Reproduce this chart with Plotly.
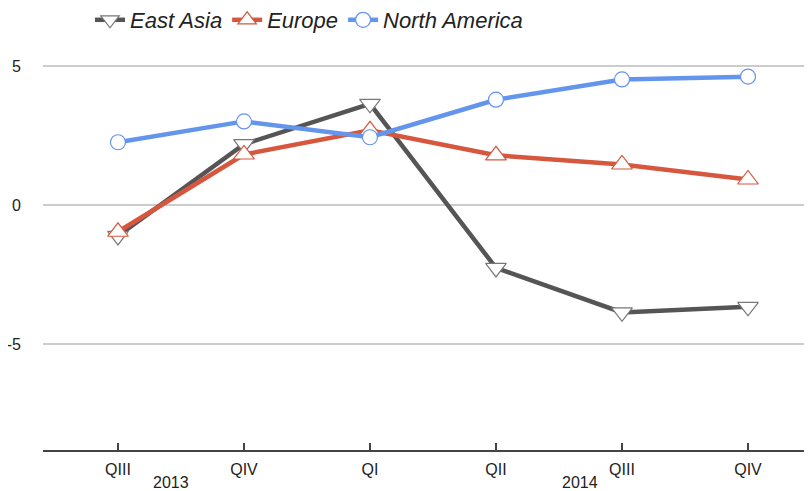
import plotly.graph_objects as go

quarters = ["QIII", "QIV", "QI", "QII", "QIII", "QIV"]
years = ["2013", "2014"]
year_pos = [0.42, 3.67]
east_asia = [-1.1, 2.2, 3.65, -2.25, -3.85, -3.65]
europe = [-0.95, 1.83, 2.7, 1.8, 1.47, 0.93]
north_america = [2.27, 3.02, 2.45, 3.8, 4.53, 4.63]
x = list(range(len(quarters)))

# the page body has an 8px default margin; compensate so the plot lands where the reference is
OFF = 8

fig = go.Figure()
series = [
    ("East Asia", east_asia, "#555555", "#777777", "triangle-down", 18),
    ("Europe", europe, "#d6573e", "#d6573e", "triangle-up", 18),
    ("North America", north_america, "#6495ed", "#6495ed", "circle", 15),
]
for name, vals, lc, mc, sym, sz in series:
    fig.add_trace(go.Scatter(
        x=x, y=vals, name=name, mode="lines+markers",
        line=dict(color=lc, width=4.5),
        marker=dict(symbol=sym, size=sz,
                    color="white", line=dict(color=mc, width=1.2)),
    ))

for yr, xp in zip(years, year_pos):
    fig.add_annotation(x=xp, y=0, xref="x", yref="paper", yshift=-32,
                       text=yr, showarrow=False,
                       font=dict(size=16, color="#222"), yanchor="middle")

fig.update_layout(
    width=812, height=491,
    margin=dict(l=43 - OFF, r=OFF, t=38 - OFF, b=41 + OFF, autoexpand=False),
    plot_bgcolor="white", paper_bgcolor="white",
    font=dict(family="Liberation Sans, Arial", color="#222"),
    showlegend=True,
    legend=dict(orientation="h", x=(90 - OFF) / 812, xref="container", xanchor="left",
                y=1 - (20 - OFF) / 491, yref="container", yanchor="middle",
                font=dict(size=22, style="italic"), itemwidth=30,
                tracegroupgap=0),
    xaxis=dict(range=[-0.595, 5.508], tickvals=x, ticktext=quarters,
               showgrid=False, zeroline=False, ticks="inside", ticklen=7,
               tickcolor="#444", tickwidth=1.5, tickfont=dict(size=16),
               ticklabelstandoff=4,
               showline=True, linecolor="#444", linewidth=1.5, automargin=False),
    yaxis=dict(range=[-8.8, 6.02], tickvals=[-5, 0, 5], ticktext=["-5", "0", "5"],
               showgrid=True, gridcolor="#cccccc", gridwidth=2,
               zeroline=False, tickfont=dict(size=16), ticklabelstandoff=21,
               automargin=False),
)

fig.write_html("out.html")
